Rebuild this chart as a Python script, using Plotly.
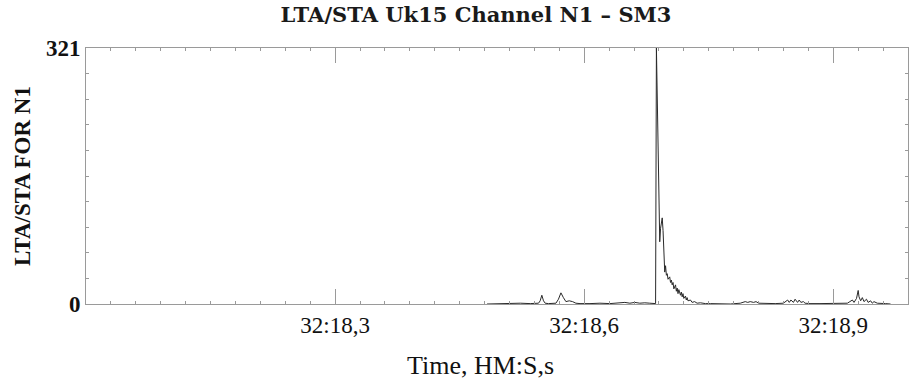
import plotly.graph_objects as go

# LTA/STA ratio for channel N1, time in seconds within minute 32 (HM:S,s)
time_s = [
    18.483, 18.499, 18.511, 18.523, 18.535, 18.545, 18.547, 18.549, 18.551, 18.553,
    18.557, 18.566, 18.569, 18.572, 18.575, 18.578, 18.582, 18.586, 18.590, 18.595,
    18.607, 18.619, 18.631, 18.643, 18.649, 18.655, 18.661, 18.667, 18.673, 18.679,
    18.683, 18.686, 18.687, 18.689, 18.690, 18.691, 18.692, 18.694, 18.695, 18.696,
    18.697, 18.698, 18.699, 18.700, 18.701, 18.703, 18.704, 18.705, 18.706, 18.707,
    18.708, 18.710, 18.711, 18.712, 18.713, 18.714, 18.716, 18.717, 18.718, 18.719,
    18.720, 18.722, 18.723, 18.724, 18.725, 18.728, 18.730, 18.733, 18.736, 18.740,
    18.746, 18.752, 18.764, 18.776, 18.788, 18.790, 18.794, 18.797, 18.800, 18.804,
    18.807, 18.810, 18.818, 18.830, 18.840, 18.842, 18.845, 18.847, 18.849, 18.852,
    18.854, 18.857, 18.859, 18.861, 18.864, 18.866, 18.872, 18.884, 18.896, 18.908,
    18.917, 18.920, 18.923, 18.925, 18.928, 18.930, 18.931, 18.933, 18.935, 18.937,
    18.940, 18.942, 18.945, 18.947, 18.949, 18.953, 18.957, 18.963, 18.969,
]
lta_sta = [
    0, 0.5, 0, 1, 0.5, 1, 4, 11, 4, 1,
    0.5, 1, 6, 14, 8, 3, 4, 3, 1, 0.5,
    0.5, 1, 0.5, 1.5, 2, 1, 2, 1, 1.5, 1,
    0.5, 0.5, 321, 168, 120, 78, 95, 108, 92, 58,
    40, 48, 36, 38, 31, 34, 27, 30, 24, 27,
    19, 24, 16, 20, 13, 18, 11, 15, 9, 13,
    7, 10, 5, 8, 4, 5, 2, 3, 1, 1.5,
    0.5, 0.5, 0.5, 0, 1, 2, 3, 2, 3, 2,
    3, 1, 0.5, 0.5, 1, 3, 5, 2, 5, 2,
    6, 2, 5, 2, 3, 1, 0.5, 0.5, 0.5, 0.5,
    1, 3, 5, 2, 7, 17, 9, 4, 8, 3,
    6, 2, 4, 1, 3, 1, 1, 0.5, 0,
]

x_tick_vals = [18.3, 18.6, 18.9]
x_tick_text = ["32:18,3", "32:18,6", "32:18,9"]
y_tick_vals = [0, 321]
y_tick_text = ["<b>0</b>", "<b>321</b>"]

fig = go.Figure(
    go.Scatter(
        x=time_s, y=lta_sta, mode="lines",
        line=dict(color="#2a2a2a", width=1), showlegend=False,
    )
)

axis_grey = "#9a9a9a"
serif = "Liberation Serif"

fig.update_layout(
    width=910, height=379,
    margin=dict(l=86, r=2, t=48, b=75),
    paper_bgcolor="white", plot_bgcolor="white",
    title=dict(
        text="<b>LTA/STA Uk15 Channel N1 – SM3</b>",
        x=476 / 910, xanchor="center", y=1 - 15 / 379, yanchor="middle",
        font=dict(family="DejaVu Serif", size=21, color="#1a1a1a"),
    ),
    font=dict(family=serif, color="#111"),
    annotations=[
        dict(
            text="Time, HM:S,s", xref="paper", yref="paper",
            x=(480 - 86) / 822, xanchor="center",
            y=-(365 - 304) / 256, yanchor="middle",
            showarrow=False, font=dict(family=serif, size=26, color="#111"),
        ),
    ],
)

fig.update_xaxes(
    range=[18.0, 18.99],
    tickmode="array", tickvals=x_tick_vals, ticktext=x_tick_text,
    ticks="inside", ticklen=15, tickwidth=1, tickcolor=axis_grey,
    minor=dict(tick0=18.0, dtick=0.03, ticks="inside", ticklen=3,
               tickcolor=axis_grey, showgrid=False),
    showline=True, linecolor=axis_grey, linewidth=1, mirror="allticks",
    showgrid=False, zeroline=False,
    tickfont=dict(family=serif, size=23, color="#111"),
)

fig.update_yaxes(
    range=[0, 321],
    tickmode="array", tickvals=y_tick_vals, ticktext=y_tick_text,
    ticks="inside", ticklen=3, tickcolor=axis_grey,
    minor=dict(tick0=0, dtick=32.1, ticks="inside", ticklen=3,
               tickcolor=axis_grey, showgrid=False),
    showline=True, linecolor=axis_grey, linewidth=1, mirror="allticks",
    showgrid=False, zeroline=False,
    tickfont=dict(family=serif, size=23, color="#111"),
    title=dict(text="<b>LTA/STA FOR N1</b>", font=dict(family=serif, size=23, color="#111"),
               standoff=8),
)

fig.write_html("out.html")
